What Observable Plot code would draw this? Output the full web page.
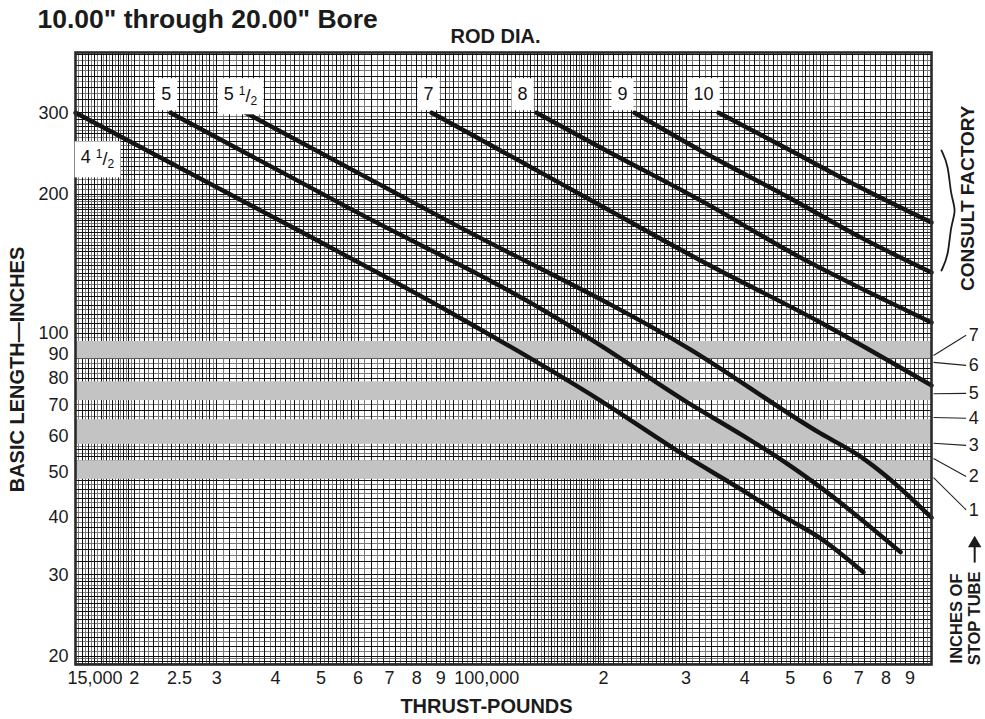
<!DOCTYPE html>
<html>
<head>
<meta charset="utf-8">
<script src="https://cdn.jsdelivr.net/npm/d3@7"></script>
<script src="https://cdn.jsdelivr.net/npm/@observablehq/plot@0.6"></script>
<style>
  html, body { margin: 0; padding: 0; background: #fff; }
  #chart svg { display: block; }
</style>
</head>
<body>
<div id="chart"></div>
<script>
// ---------------- DATA ----------------
const rodNames = ["4 1/2", "5", "5 1/2", "7", "8", "9", "10"];

// thrust (pounds) and basic length (inches) along each rod-diameter curve
const rod45Thrust = [15000, 45250, 94400, 197000, 298000, 396000, 489000, 580000, 716000];
const rod45Length = [300, 166.0, 110.9, 71.5, 54.4, 45.7, 39.9, 36.0, 30.4];
const rod5Thrust  = [23900, 57800, 162000, 197100, 297700, 395800, 488700, 580100, 859200];
const rod5Length  = [300, 185.8, 106.6, 94.1, 71.5, 60.1, 52.5, 46.4, 33.6];
const rod55Thrust = [34540, 94440, 306600, 580100, 706100, 806100, 1000000];
const rod55Length = [300, 173.7, 92.2, 60.7, 54.1, 48.8, 39.9];
const rod7Thrust  = [86050, 120700, 197100, 322000, 580100, 1000000];
const rod7Length  = [300, 248.6, 189.0, 143.7, 105.5, 77.1];
const rod8Thrust  = [144000, 197100, 322000, 526000, 798200, 1000000];
const rod8Length  = [300, 252.3, 193.8, 145.8, 117.8, 105.5];
const rod9Thrust  = [232900, 322000, 500800, 706100, 1000000];
const rod9Length  = [300, 248.6, 195.7, 161.2, 135.3];
const rod10Thrust = [351800, 500800, 672300, 1000000];
const rod10Length = [300, 248.6, 212.0, 173.7];

// rod label positions (thrust, length)
const rodLabelThrust = [16700, 23400, 33700, 84800, 134500, 219600, 326900];
const rodLabelLength = [240, 328.6, 328.6, 328.6, 328.6, 328.6, 328.6];

// grey stop-tube bands (length ranges)
const bandLow  = [88, 71.5, 57.5, 48.3];
const bandHigh = [96, 78.5, 65, 53];

// stop tube leaders
const stopTube       = ["1", "2", "3", "4", "5", "6", "7"];
const stopTarget     = [48.7, 53.6, 57.8, 65.7, 74.0, 86.5, 89.5];
const stopLabelLen   = [41.5, 49, 57.2, 65.5, 74.1, 85.2, 99];

// axes
const xTickValues = [15000, 20000, 25000, 30000, 40000, 50000, 60000, 70000, 80000, 90000,
                     100000, 200000, 300000, 400000, 500000, 600000, 700000, 800000, 900000];
const xTickLabels = ["15,000", "2", "2.5", "3", "4", "5", "6", "7", "8", "9",
                     "100,000", "2", "3", "4", "5", "6", "7", "8", "9"];
const yTickValues = [20, 30, 40, 50, 60, 70, 80, 90, 100, 200, 300];
const yTickLabels = ["20", "30", "40", "50", "60", "70", "80", "90", "100", "200", "300"];

const xDomain = [15000, 1000000];
const yDomain = [19.2, 405];

// ---------------- BUILD TABLES ----------------
const rodThrust = [rod45Thrust, rod5Thrust, rod55Thrust, rod7Thrust, rod8Thrust, rod9Thrust, rod10Thrust];
const rodLength = [rod45Length, rod5Length, rod55Length, rod7Length, rod8Length, rod9Length, rod10Length];
const curves = rodNames.flatMap((rod, i) => rodThrust[i].map((t, j) => ({rod, thrust: t, length: rodLength[i][j]})));
const rodLabels = rodNames.map((rod, i) => ({rod, thrust: rodLabelThrust[i], length: rodLabelLength[i]}));
const bands = bandLow.map((lo, i) => ({lo, hi: bandHigh[i]}));
const stops = stopTube.map((s, i) => ({s, target: stopTarget[i], label: stopLabelLen[i]}));
const xTicks = xTickValues.map((v, i) => ({v, label: xTickLabels[i]}));
const yTicks = yTickValues.map((v, i) => ({v, label: yTickLabels[i]}));

// log-paper grid (graph-paper texture)
const segs = [[1, 2, 0.025], [2, 3, 0.05], [3, 6, 0.1], [6, 10, 0.2]];
function paper(decades, lo, hi) {
  const dark = [], light = [];
  for (const d of decades) for (const [a, b, s] of segs) {
    const n = Math.round((b - a) / s);
    for (let i = 0; i < n; i++) {
      const v = +((a + i * s) * d).toPrecision(8);
      if (v <= lo * 1.0001 || v >= hi * 0.9999) continue;
      (i % 2 === 0 ? dark : light).push(v);
    }
  }
  return {dark, light};
}
const gx = paper([1e4, 1e5], xDomain[0], xDomain[1]);
const gy = paper([10, 100], yDomain[0], yDomain[1]);

const ink = "#1b1b1b";
const font = "'Liberation Sans', Arial, Helvetica, sans-serif";

const chart = Plot.plot({
  width: 985,
  height: 719,
  marginLeft: 75,
  marginRight: 54,
  marginTop: 52,
  marginBottom: 55,
  x: {type: "log", domain: xDomain, axis: null},
  y: {type: "log", domain: yDomain, axis: null},
  style: {fontFamily: font, background: "#fff", color: ink, overflow: "visible"},
  marks: [
    Plot.ruleX(gx.light, {stroke: "#7a7a7a", strokeWidth: 1, shapeRendering: "crispEdges"}),
    Plot.ruleY(gy.light, {stroke: "#7a7a7a", strokeWidth: 1, shapeRendering: "crispEdges"}),
    Plot.ruleX(gx.dark, {stroke: "#111", strokeWidth: 1, shapeRendering: "crispEdges"}),
    Plot.ruleY(gy.dark, {stroke: "#111", strokeWidth: 1, shapeRendering: "crispEdges"}),
    Plot.rect(bands, {x1: () => xDomain[0], x2: () => xDomain[1], y1: "lo", y2: "hi", fill: "#c3c3c3"}),
    Plot.line(curves, {x: "thrust", y: "length", z: "rod", stroke: "#141414", strokeWidth: 4.4, curve: "monotone-x"}),
    Plot.frame({stroke: "#2a2a2a", strokeWidth: 2.6}),
    // rod labels
    Plot.text(rodLabels, {x: "thrust", y: "length", text: "rod", fontSize: 18, fill: "#111112", className: "rodlab"}),
    // y tick labels
    Plot.text(yTicks, {y: "v", text: "label", frameAnchor: "left", textAnchor: "end", lineAnchor: "middle", dx: -7, fontSize: 18, fill: ink}),
    // x tick labels
    Plot.text(xTicks.filter(d => !d.label.includes(",")), {x: "v", text: "label", frameAnchor: "bottom", lineAnchor: "middle", textAnchor: "middle", dy: 14, fontSize: 18, fill: ink}),
    Plot.text(xTicks.filter(d => d.label.includes(",")), {x: "v", text: "label", frameAnchor: "bottom", lineAnchor: "middle", dy: 14, dx: -8, textAnchor: "start", fontSize: 18, fill: ink}),
    // stop tube leaders
    Plot.link(stops, {x1: () => 1.01e6, y1: "target", x2: () => 1.185e6, y2: "label", stroke: "#222", strokeWidth: 1.1}),
    Plot.text(stops, {x: () => 1.2e6, y: "label", text: "s", textAnchor: "start", lineAnchor: "middle", fontSize: 18, fill: ink}),
    // titles
    Plot.text(["10.00\" through 20.00\" Bore"], {frameAnchor: "top-left", text: d => d, textAnchor: "start", lineAnchor: "middle", dx: -38, dy: -33, fontSize: 26.5, fontWeight: "bold", fill: ink}),
    Plot.text(["ROD DIA."], {frameAnchor: "top", text: d => d, textAnchor: "middle", lineAnchor: "middle", dx: -8, dy: -16, fontSize: 20, fontWeight: "bold", fill: ink}),
    Plot.text(["THRUST-POUNDS"], {frameAnchor: "bottom", text: d => d, textAnchor: "middle", lineAnchor: "middle", dx: -17, dy: 42, fontSize: 20, fontWeight: "bold", fill: ink}),
    Plot.text(["BASIC LENGTH\u2014INCHES"], {frameAnchor: "left", text: d => d, textAnchor: "middle", lineAnchor: "middle", rotate: -90, dx: -58, dy: 11, fontSize: 20, fontWeight: "bold", fill: ink}),
    Plot.text(["CONSULT FACTORY"], {x: () => 1.194e6, y: () => 196, text: d => d, textAnchor: "middle", lineAnchor: "middle", rotate: -90, fontSize: 19, fontWeight: "bold", fill: ink}),
    Plot.line([[1.050e6, 248.6], [1.087e6, 230.7], [1.098e6, 198.7], [1.131e6, 184.4], [1.098e6, 171.1], [1.087e6, 147.3], [1.050e6, 136.7]], {curve: "basis", stroke: ink, strokeWidth: 1.8}),
    Plot.text(["INCHES OF"], {x: () => 1.13e6, y: () => 24.15, text: d => d, textAnchor: "middle", lineAnchor: "middle", rotate: -90, fontSize: 16.5, fontWeight: "bold", fill: ink}),
    Plot.text(["STOP TUBE"], {x: () => 1.236e6, y: () => 24.15, text: d => d, textAnchor: "middle", lineAnchor: "middle", rotate: -90, fontSize: 16.5, fontWeight: "bold", fill: ink}),
    Plot.link([0], {x1: () => 1.236e6, y1: () => 31.9, x2: () => 1.236e6, y2: () => 34.6, stroke: ink, strokeWidth: 2}),
    Plot.dot([0], {x: () => 1.236e6, y: () => 35.1, symbol: "triangle", r: 5, fill: ink})
  ]
});

document.getElementById("chart").appendChild(chart);

// white boxes behind rod labels + stacked fractions
const svg = d3.select(chart);
let labs = svg.selectAll("g.rodlab text");
if (labs.empty()) labs = svg.selectAll("g[fill='#111112'] text");
labs.each(function () {
  const t = d3.select(this);
  const s = t.text();
  const m = s.match(/^(\d+) 1\/2$/);
  if (m) {
    t.text("");
    t.append("tspan").text(m[1] + " ");
    t.append("tspan").attr("font-size", 12).attr("dy", "-0.4em").text("1");
    t.append("tspan").attr("font-size", 18).attr("dy", "0.35em").text("/");
    t.append("tspan").attr("font-size", 12).attr("dy", "0.3em").text("2");
  }
  const b = this.getBBox();
  const r = document.createElementNS("http://www.w3.org/2000/svg", "rect");
  r.setAttribute("x", b.x - 6);
  r.setAttribute("y", b.y - 6);
  r.setAttribute("width", b.width + 12);
  r.setAttribute("height", b.height + 12);
  r.setAttribute("fill", "#fff");
  const tr = this.getAttribute("transform");
  if (tr) r.setAttribute("transform", tr);
  this.parentNode.insertBefore(r, this);
});
</script>
</body>
</html>
